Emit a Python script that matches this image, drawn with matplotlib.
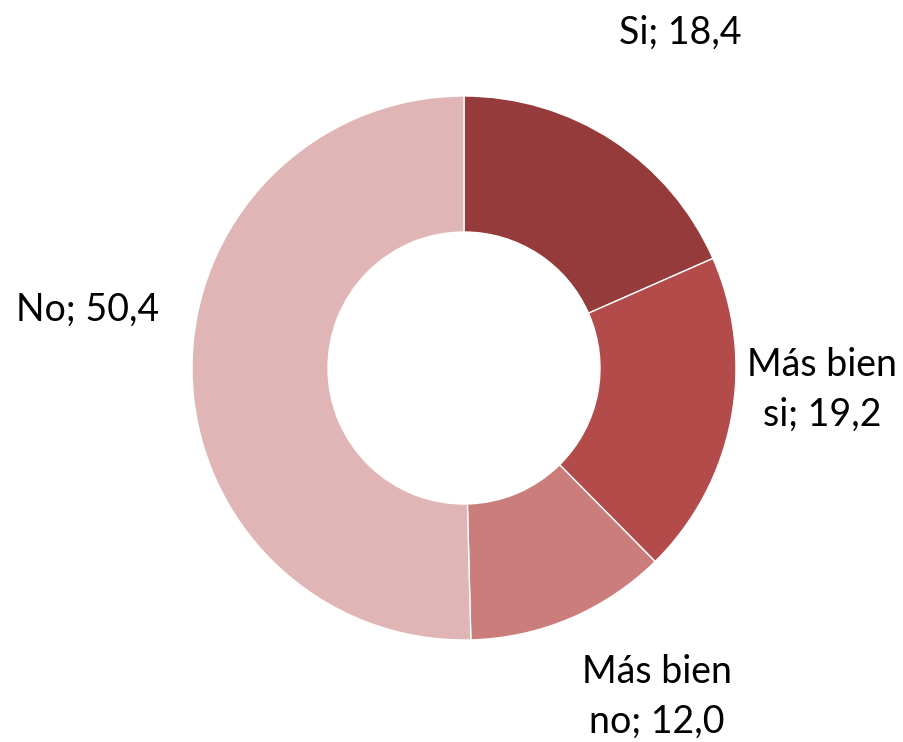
import matplotlib
matplotlib.use('Agg')
import matplotlib.pyplot as plt

# data
labels = ['Si', 'Más bien\nsi', 'Más bien\nno', 'No']
values = [18.4, 19.2, 12.0, 50.4]
colors = ['#953B3B', '#B34B4A', '#CB7D7C', '#DFB5B5']

plt.rcParams['font.family'] = ['Lato', 'DejaVu Sans']

W, H = 904, 742
fig = plt.figure(figsize=(W / 100, H / 100), dpi=100)
ax = fig.add_axes([0, 0, 1, 1])

cx, cy, r = 464, H - 368, 272
wedges, _ = ax.pie(values, colors=colors, startangle=90, counterclock=False,
                   radius=r, center=(cx, cy),
                   wedgeprops=dict(width=r * 0.5, edgecolor='white', linewidth=1.0))
# pie() resets the limits, set them back to pixel units
ax.set_xlim(0, W)
ax.set_ylim(0, H)
ax.set_aspect('equal')
ax.axis('off')

# label positions (pixels from top-left)
lab_pos = [(680, 33), (822, 390), (657, 697), (88, 310)]
for lab, v, (x, y) in zip(labels, values, lab_pos):
    txt = '%s; %s' % (lab, ('%.1f' % v).replace('.', ','))
    ax.text(x, H - y, txt, ha='center', va='center', fontsize=27, linespacing=1.45)

fig.savefig('out.png', dpi=100)
